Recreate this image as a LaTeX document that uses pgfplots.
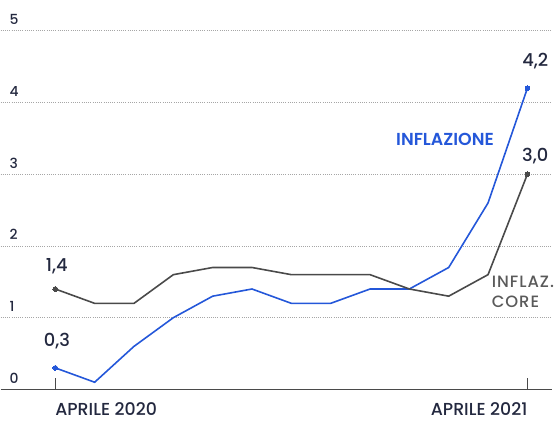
\documentclass[border=0pt]{standalone}
\usepackage{pgfplots}
\pgfplotsset{compat=1.18}
\usepackage{fontspec}
\setmainfont{Poppins}[UprightFont=* Medium, BoldFont=* SemiBold]
\definecolor{navy}{HTML}{23283F}
\definecolor{blueline}{HTML}{2457D9}
\definecolor{grayline}{HTML}{4A4A4A}
\definecolor{coretxt}{HTML}{5A5A5A}
\begin{document}
\begin{tikzpicture}
\begin{axis}[
  scale only axis, width=554bp, height=391bp,
  xmin=-1.392, xmax=12.633, ymin=0, ymax=5.43,
  axis line style={draw=none},
  clip=false,
  ytick={1,2,3,4,5},
  extra y ticks={0},
  extra y tick style={grid style={solid, grayline, line width=1.1bp}},
  ymajorgrids,
  grid style={gray!70, line width=0.8bp, dash pattern=on 0.8bp off 1.4bp},
  y tick style={draw=none},
  yticklabel style={anchor=base west, xshift=9bp, yshift=6bp, font=\fontsize{14}{14}\selectfont, text=navy, inner sep=0pt},
  /pgf/number format/assume math mode=true,
  xtick={0,12},
  xtick pos=bottom,
  tick align=inside,
  major tick length=11bp,
  xtick style={grayline, line width=1bp},
  xticklabels={\rlap{APRILE 2020}, \llap{APRILE 2021}},
  xticklabel style={anchor=base, yshift=-26.5bp, font=\fontsize{17.5}{17.5}\selectfont, text=navy, inner sep=0pt},
]
\addplot[blueline, line width=1.6bp, mark=*, mark size=2.4bp,
  mark options={line width=0pt}, mark indices={1,13}] coordinates {
  (0,0.3) (1,0.1) (2,0.6) (3,1.0) (4,1.3) (5,1.4) (6,1.2) (7,1.2)
  (8,1.4) (9,1.4) (10,1.7) (11,2.6) (12,4.2)};
\addplot[grayline, line width=1.6bp, mark=*, mark size=2.4bp,
  mark options={line width=0pt}, mark indices={1,13}] coordinates {
  (0,1.4) (1,1.2) (2,1.2) (3,1.6) (4,1.7) (5,1.7) (6,1.6) (7,1.6)
  (8,1.6) (9,1.4) (10,1.3) (11,1.6) (12,3.0)};
\node[anchor=base, font=\fontsize{18}{18}\selectfont, text=navy] at (axis cs:12.2,4.5) {4,2};
\node[anchor=base, font=\fontsize{18}{18}\selectfont, text=navy] at (axis cs:12.2,3.18) {3,0};
\node[anchor=base, font=\fontsize{18}{18}\selectfont, text=navy] at (axis cs:0.04,1.65) {1,4};
\node[anchor=base, font=\fontsize{18}{18}\selectfont, text=navy] at (axis cs:0.04,0.6) {0,3};
\node[anchor=base west, inner sep=0pt, font=\bfseries\fontsize{17.5}{17.5}\selectfont, text=blueline] at (axis cs:8.66,3.40) {INFLAZIONE};
\node[anchor=base west, inner sep=0pt, font=\fontsize{16.5}{16.5}\selectfont, text=coretxt] at (axis cs:11.09,1.42) {\addfontfeature{LetterSpace=6}INFLAZ.};
\node[anchor=base west, inner sep=0pt, font=\fontsize{16.5}{16.5}\selectfont, text=coretxt] at (axis cs:11.09,1.14) {\addfontfeature{LetterSpace=6}CORE};
\end{axis}
\path[use as bounding box] (0,-33bp) rectangle (554bp,391bp);
\end{tikzpicture}
\end{document}
